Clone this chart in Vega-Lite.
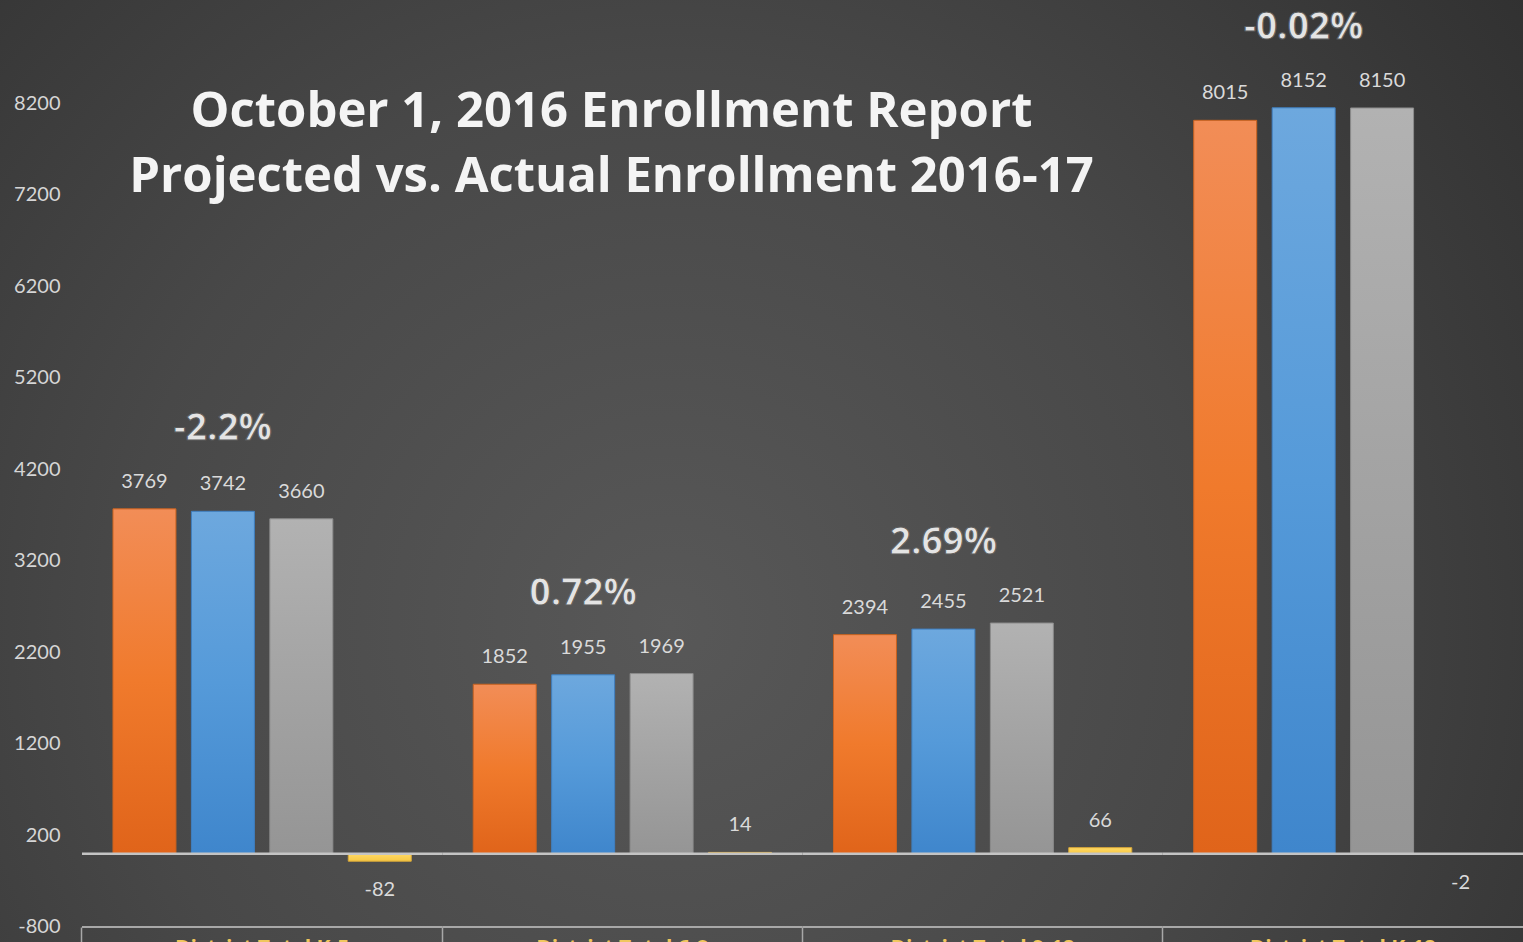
{
  "$schema": "https://vega.github.io/schema/vega-lite/v6.json",
  "width": 1523,
  "height": 942,
  "autosize": {"type": "none"},
  "padding": 0,
  "background": "#333333",
  "config": {
    "font": "Lato",
    "view": {
      "stroke": null,
      "fill": {
        "gradient": "radial",
        "x1": 0.44, "y1": 0.6, "r1": 0,
        "x2": 0.44, "y2": 0.6, "r2": 0.8,
        "stops": [
          {"offset": 0, "color": "#585858"},
          {"offset": 0.45, "color": "#484848"},
          {"offset": 1, "color": "#2a2a2a"}
        ]
      }
    }
  },
  "title": {
    "text": ["October 1, 2016 Enrollment Report", "Projected vs. Actual Enrollment 2016-17"],
    "font": "Open Sans",
    "fontSize": 49,
    "fontWeight": "bold",
    "color": "#f4f4f4",
    "lineHeight": 65,
    "anchor": "middle",
    "frame": "group",
    "dx": -150,
    "dy": 206,
    "limit": 1500
  },
  "datasets": {
    "bars": [
      {"group": "District Total K-5", "series": "2015-16 Actual", "value": 3769},
      {"group": "District Total K-5", "series": "2016-17 Projected", "value": 3742},
      {"group": "District Total K-5", "series": "2016-17 Actual", "value": 3660},
      {"group": "District Total K-5", "series": "Difference", "value": -82},
      {"group": "District Total 6-8", "series": "2015-16 Actual", "value": 1852},
      {"group": "District Total 6-8", "series": "2016-17 Projected", "value": 1955},
      {"group": "District Total 6-8", "series": "2016-17 Actual", "value": 1969},
      {"group": "District Total 6-8", "series": "Difference", "value": 14},
      {"group": "District Total 9-12", "series": "2015-16 Actual", "value": 2394},
      {"group": "District Total 9-12", "series": "2016-17 Projected", "value": 2455},
      {"group": "District Total 9-12", "series": "2016-17 Actual", "value": 2521},
      {"group": "District Total 9-12", "series": "Difference", "value": 66},
      {"group": "District Total K-12", "series": "2015-16 Actual", "value": 8015},
      {"group": "District Total K-12", "series": "2016-17 Projected", "value": 8152},
      {"group": "District Total K-12", "series": "2016-17 Actual", "value": 8150},
      {"group": "District Total K-12", "series": "Difference", "value": -2}
    ],
    "pct": [
      {"group": "District Total K-5", "series": "2016-17 Projected", "value": 3769, "label": "-2.2%"},
      {"group": "District Total 6-8", "series": "2016-17 Projected", "value": 1969, "label": "0.72%"},
      {"group": "District Total 9-12", "series": "2016-17 Projected", "value": 2521, "label": "2.69%"},
      {"group": "District Total K-12", "series": "2016-17 Projected", "value": 8152, "label": "-0.02%"}
    ]
  },
  "data": {"name": "bars"},
  "encoding": {
    "x": {
      "field": "group", "type": "nominal",
      "sort": ["District Total K-5", "District Total 6-8", "District Total 9-12", "District Total K-12"],
      "scale": {"paddingInner": 0, "paddingOuter": 0.1138, "align": 1},
      "axis": {
        "title": null,
        "orient": "bottom",
        "offset": -15,
        "bandPosition": 0,
        "domain": false,
        "tickColor": "#a8a8a8",
        "tickWidth": 1.5,
        "tickSize": 16,
        "labelPadding": -6,
        "labelColor": "#f0c75e",
        "labelFont": "Open Sans",
        "labelFontSize": 21,
        "labelFontWeight": "bold",
        "labelAngle": 0,
        "labelBaseline": "top",
        "labelLimit": 0
      }
    },
    "xOffset": {
      "field": "series", "type": "nominal",
      "scale": {
        "domain": ["2015-16 Actual", "2016-17 Projected", "2016-17 Actual", "Difference"],
        "paddingInner": 0.197,
        "paddingOuter": 0.395
      }
    },
    "y": {
      "field": "value", "type": "quantitative",
      "scale": {"domain": [-965, 9330], "nice": false, "zero": false},
      "axis": {
        "title": null,
        "offset": -82,
        "values": [-800, 200, 1200, 2200, 3200, 4200, 5200, 6200, 7200, 8200],
        "labelExpr": "replace(datum.label, '\u2212', '-')",
        "format": "d",
        "grid": false,
        "domain": false,
        "ticks": false,
        "labelPadding": 22,
        "labelColor": "#d6d6d6",
        "labelFont": "Lato",
        "labelFontSize": 20
      }
    }
  },
  "layer": [
    {
      "data": {"name": "pct"},
      "mark": {"type": "bar", "fill": null, "stroke": "#a8a8a8", "strokeWidth": 2, "strokeDash": [3, 1]},
      "encoding": {"y": {"datum": -800}, "y2": {"datum": -800}, "xOffset": null}
    },
    {
      "transform": [{"filter": "datum.series === '2015-16 Actual'"}],
      "mark": {"type": "bar", "stroke": "#c9621f", "strokeWidth": 1,
        "fill": {"gradient": "linear", "x1": 0, "y1": 0, "x2": 0, "y2": 1,
          "stops": [{"offset": 0, "color": "#f28d57"}, {"offset": 0.5, "color": "#f07a2c"}, {"offset": 1, "color": "#e0641a"}]}},
      "encoding": {"y2": {"datum": 0}}
    },
    {
      "transform": [{"filter": "datum.series === '2016-17 Projected'"}],
      "mark": {"type": "bar", "stroke": "#3f7fc0", "strokeWidth": 1,
        "fill": {"gradient": "linear", "x1": 0, "y1": 0, "x2": 0, "y2": 1,
          "stops": [{"offset": 0, "color": "#6da8de"}, {"offset": 0.5, "color": "#559ad9"}, {"offset": 1, "color": "#3f86cc"}]}},
      "encoding": {"y2": {"datum": 0}}
    },
    {
      "transform": [{"filter": "datum.series === '2016-17 Actual'"}],
      "mark": {"type": "bar", "stroke": "#8c8c8c", "strokeWidth": 1,
        "fill": {"gradient": "linear", "x1": 0, "y1": 0, "x2": 0, "y2": 1,
          "stops": [{"offset": 0, "color": "#b2b2b2"}, {"offset": 0.5, "color": "#a3a3a3"}, {"offset": 1, "color": "#959595"}]}},
      "encoding": {"y2": {"datum": 0}}
    },
    {
      "transform": [{"filter": "datum.series === 'Difference'"}],
      "mark": {"type": "bar", "stroke": "#d9a93a", "strokeWidth": 1,
        "fill": {"gradient": "linear", "x1": 0, "y1": 0, "x2": 0, "y2": 1,
          "stops": [{"offset": 0, "color": "#ffd966"}, {"offset": 1, "color": "#f7c843"}]}},
      "encoding": {"y2": {"datum": 0}}
    },
    {
      "data": {"name": "pct"},
      "mark": {"type": "bar", "fill": null, "stroke": "#c4c4c4", "strokeWidth": 2.5, "strokeDash": [3, 1.5]},
      "encoding": {"y": {"datum": 0}, "y2": {"datum": 0}, "xOffset": null}
    },
    {
      "transform": [{"filter": "datum.value >= 0"}],
      "mark": {"type": "text", "baseline": "middle", "align": "center", "dy": -27, "font": "Lato", "fontSize": 20, "color": "#dadada"},
      "encoding": {"text": {"field": "value", "type": "nominal"}}
    },
    {
      "transform": [{"filter": "datum.value < 0"}],
      "mark": {"type": "text", "baseline": "middle", "align": "center", "dy": 29, "font": "Lato", "fontSize": 20, "color": "#dadada"},
      "encoding": {"text": {"field": "value", "type": "nominal"}}
    },
    {
      "data": {"name": "pct"},
      "mark": {"type": "text", "baseline": "middle", "align": "center", "dy": -80, "font": "Open Sans", "fontSize": 37, "fontWeight": "bold", "fill": "#e4e4e4", "stroke": "#5c5c5c", "strokeWidth": 1},
      "encoding": {"text": {"field": "label", "type": "nominal"}}
    }
  ]
}
